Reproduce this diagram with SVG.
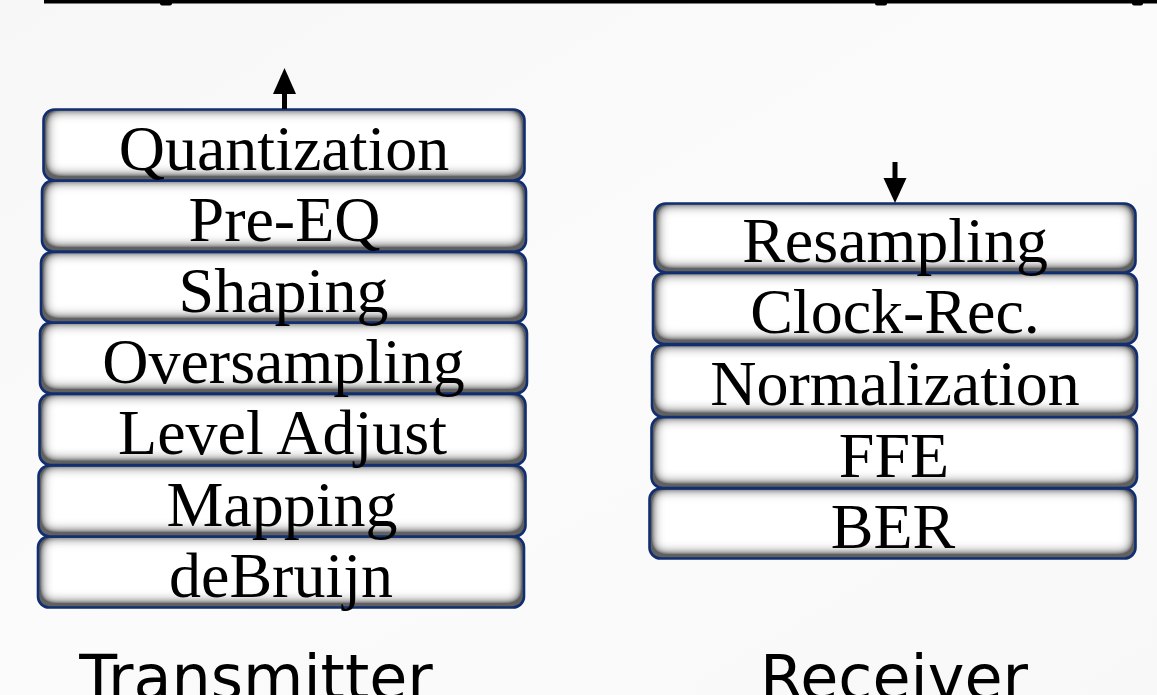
<svg xmlns="http://www.w3.org/2000/svg" width="1157" height="695" viewBox="0 0 1157 695">
<defs>
<linearGradient id="bg" x1="0" y1="0" x2="1" y2="1">
<stop offset="0" stop-color="#f7f7f7"/>
<stop offset="0.5" stop-color="#fbfbfb"/>
<stop offset="1" stop-color="#f8f8f8"/>
</linearGradient>
<filter id="inner" x="-5%" y="-25%" width="110%" height="150%">
<feComponentTransfer in="SourceAlpha"><feFuncA type="table" tableValues="1 0"/></feComponentTransfer>
<feGaussianBlur stdDeviation="7"/>
<feOffset dx="0" dy="-2.5"/>
<feComponentTransfer result="off"><feFuncA type="linear" slope="2.6" intercept="0"/></feComponentTransfer>
<feFlood flood-color="#606060"/>
<feComposite in2="off" operator="in"/>
<feComposite in2="SourceAlpha" operator="in" result="shadow"/>
<feMerge><feMergeNode in="SourceGraphic"/><feMergeNode in="shadow"/></feMerge>
</filter>
</defs>
<style>
.fill{fill:#ffffff;filter:url(#inner)}
.edge{fill:none;stroke:#112e70;stroke-width:2.6}
.lbl{font-family:"Liberation Serif","Times New Roman",serif;font-size:64px;fill:#000;text-anchor:middle}
.title{font-family:"DejaVu Sans",Verdana,sans-serif;font-size:62px;fill:#000;text-anchor:middle}
.conn{stroke:#000;stroke-width:5;fill:none}
.head{fill:#000}
</style>
<rect x="0" y="0" width="1157" height="695" fill="url(#bg)"/>
<g id="topbar">
<rect x="44" y="0" width="1113" height="3.5" fill="#000"/>
<rect x="160" y="0" width="12" height="5.5" rx="2" fill="#000"/>
<rect x="875" y="0" width="12" height="5.5" rx="2" fill="#000"/>
<rect x="1132" y="0" width="11" height="5.5" rx="2" fill="#000"/>
</g>
<g id="tx-deBruijn"><rect class="fill" x="38" y="536.5" width="486" height="71" rx="11"/><rect class="edge" x="38" y="536.5" width="486" height="71" rx="11"/><text class="lbl" x="281" y="596.5">deBruijn</text></g>
<g id="tx-mapping"><rect class="fill" x="38.5" y="465.5" width="487" height="71" rx="11"/><rect class="edge" x="38.5" y="465.5" width="487" height="71" rx="11"/><text class="lbl" x="282" y="525.5">Mapping</text></g>
<g id="tx-level"><rect class="fill" x="39.5" y="394" width="486" height="71" rx="11"/><rect class="edge" x="39.5" y="394" width="486" height="71" rx="11"/><text class="lbl" x="282.5" y="454">Level Adjust</text></g>
<g id="tx-oversampling"><rect class="fill" x="40" y="322.5" width="487" height="71" rx="11"/><rect class="edge" x="40" y="322.5" width="487" height="71" rx="11"/><text class="lbl" x="283.5" y="382.5">Oversampling</text></g>
<g id="tx-shaping"><rect class="fill" x="41" y="252" width="485" height="70.5" rx="11"/><rect class="edge" x="41" y="252" width="485" height="70.5" rx="11"/><text class="lbl" x="283.5" y="312">Shaping</text></g>
<g id="tx-preeq"><rect class="fill" x="42" y="180.5" width="484" height="71" rx="11"/><rect class="edge" x="42" y="180.5" width="484" height="71" rx="11"/><text class="lbl" x="284.5" y="240.5">Pre-EQ</text></g>
<g id="tx-quant"><rect class="fill" x="43.5" y="109.5" width="481" height="71" rx="11"/><rect class="edge" x="43.5" y="109.5" width="481" height="71" rx="11"/><text class="lbl" x="284" y="169.5">Quantization</text></g>
<g id="rx-ber"><rect class="fill" x="649.5" y="488.5" width="486" height="70" rx="11"/><rect class="edge" x="649.5" y="488.5" width="486" height="70" rx="11"/><text class="lbl" x="893" y="548">BER</text></g>
<g id="rx-ffe"><rect class="fill" x="651.5" y="417" width="485.5" height="71" rx="11"/><rect class="edge" x="651.5" y="417" width="485.5" height="71" rx="11"/><text class="lbl" x="894" y="477">FFE</text></g>
<g id="rx-norm"><rect class="fill" x="652" y="345" width="485" height="72" rx="11"/><rect class="edge" x="652" y="345" width="485" height="72" rx="11"/><text class="lbl" x="895" y="405">Normalization</text></g>
<g id="rx-clock"><rect class="fill" x="653" y="273" width="484" height="71" rx="11"/><rect class="edge" x="653" y="273" width="484" height="71" rx="11"/><text class="lbl" x="895" y="333">Clock-Rec.</text></g>
<g id="rx-resamp"><rect class="fill" x="654.5" y="203.5" width="481" height="69" rx="11"/><rect class="edge" x="654.5" y="203.5" width="481" height="69" rx="11"/><text class="lbl" x="895" y="262">Resampling</text></g>
<g id="connectors">
<line class="conn" x1="284.5" y1="109" x2="284.5" y2="90"/>
<polygon class="head" points="284.5,68 273,94 296,94"/>
<line class="conn" x1="895" y1="162" x2="895" y2="182"/>
<polygon class="head" points="895,203 883.5,178 906.5,178"/>
</g>
<g id="labels">
<text class="title" x="256" y="699">Transmitter</text>
<text class="title" x="894" y="699">Receiver</text>
</g>
</svg>
